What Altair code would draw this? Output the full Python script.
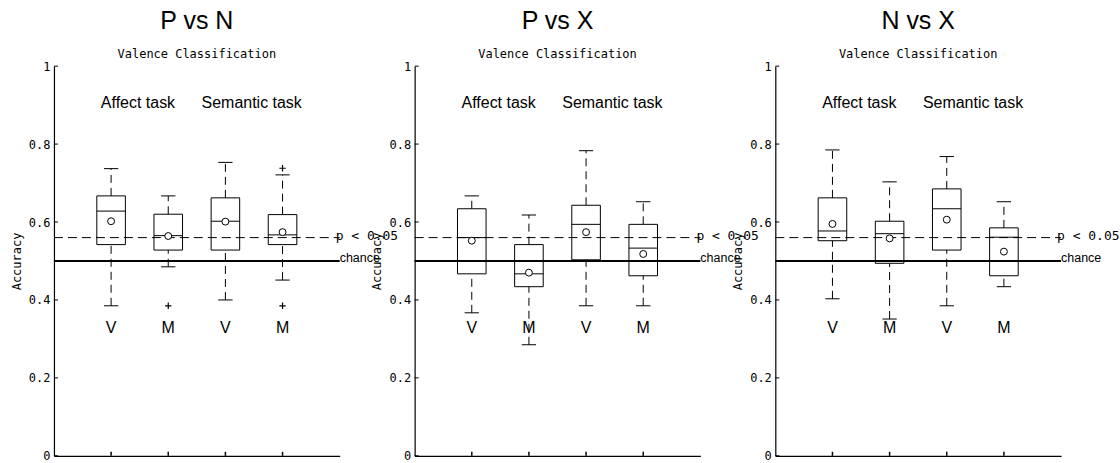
import altair as alt
import pandas as pd

# ---- data -------------------------------------------------------------
panel_titles = ["P vs N", "P vs X", "N vs X"]
subtitle = "Valence Classification"
positions = [1, 2, 3, 4]
conditions = ["V", "M", "V", "M"]
tasks = ["Affect task", "Semantic task"]
task_centres = [1.47, 3.46]

# box statistics per panel, order: V, M (affect task), V, M (semantic task)
pn_q1 = [0.542, 0.528, 0.528, 0.542]
pn_med = [0.628, 0.565, 0.602, 0.567]
pn_q3 = [0.667, 0.620, 0.662, 0.619]
pn_lo = [0.385, 0.485, 0.400, 0.451]
pn_hi = [0.737, 0.667, 0.753, 0.721]
pn_mean = [0.602, 0.564, 0.601, 0.574]
pn_out_pos = [2, 4, 4]
pn_out_val = [0.385, 0.738, 0.385]

px_q1 = [0.467, 0.434, 0.503, 0.462]
px_med = [0.560, 0.467, 0.594, 0.533]
px_q3 = [0.634, 0.542, 0.643, 0.594]
px_lo = [0.367, 0.285, 0.385, 0.385]
px_hi = [0.667, 0.618, 0.783, 0.652]
px_mean = [0.552, 0.470, 0.574, 0.518]
px_out_pos = []
px_out_val = []

nx_q1 = [0.552, 0.494, 0.528, 0.462]
nx_med = [0.577, 0.570, 0.634, 0.561]
nx_q3 = [0.662, 0.602, 0.685, 0.585]
nx_lo = [0.403, 0.351, 0.385, 0.434]
nx_hi = [0.785, 0.703, 0.768, 0.652]
nx_mean = [0.595, 0.558, 0.606, 0.524]
nx_out_pos = []
nx_out_val = []

threshold_labels = ["p < 0.05", "chance"]
threshold_values = [0.56, 0.5]
condition_label_level = 0.328
task_label_level = 0.905
y_ticks = [0, 0.2, 0.4, 0.6, 0.8, 1]

# ---- styling ----------------------------------------------------------
SANS = "Liberation Sans"
MONO = "DejaVu Sans Mono"
W, H = 286, 390
DASH = [8, 5]

xscale = alt.Scale(domain=[0, 5], nice=False, zero=False)
yscale = alt.Scale(domain=[0, 1], nice=False, zero=False)
xaxis = alt.Axis(labels=False, ticks=False, tickSize=0, title=None, grid=False,
                 domainColor="black", domainWidth=1.2, values=positions)
yaxis = alt.Axis(values=y_ticks, format="~g", ticks=False, tickSize=0, grid=False,
                 domainColor="black", domainWidth=1.2,
                 labelFont=MONO, labelFontSize=12, labelColor="black", labelPadding=4,
                 title="Accuracy", titleFont=MONO, titleFontSize=12,
                 titleFontWeight="normal", titleColor="black", titlePadding=5)


def X(field):
    return alt.X(field, type="quantitative", scale=xscale, axis=xaxis)


def Y(field):
    return alt.Y(field, type="quantitative", scale=yscale, axis=yaxis)


def panel(title, q1, med, q3, lo, hi, mean, out_pos, out_val):
    stats = pd.DataFrame({"pos": positions, "cond": conditions, "q1": q1,
                          "med": med, "q3": q3, "lo": lo, "hi": hi, "mean": mean})
    base = alt.Chart(stats).transform_calculate(
        left="datum.pos - 0.25", right="datum.pos + 0.25",
        capL="datum.pos - 0.125", capR="datum.pos + 0.125")

    refs = pd.DataFrame({"label": threshold_labels, "value": threshold_values,
                         "start": [0, 0], "end": [5, 5]})
    ref_base = alt.Chart(refs)
    p_line = ref_base.transform_filter(alt.datum.label == threshold_labels[0]).mark_rule(
        color="black", strokeWidth=1, strokeDash=[9, 5]).encode(
        x=X("start:Q"), x2="end:Q", y=Y("value:Q"))
    chance_line = ref_base.transform_filter(alt.datum.label == threshold_labels[1]).mark_rule(
        color="black", strokeWidth=2).encode(x=X("start:Q"), x2="end:Q", y=Y("value:Q"))
    p_text = ref_base.transform_filter(alt.datum.label == threshold_labels[0]).mark_text(
        align="left", baseline="middle", dx=-4, dy=-2, font=MONO, fontSize=13,
        color="black").encode(x=X("end:Q"), y=Y("value:Q"), text="label:N")
    chance_text = ref_base.transform_filter(alt.datum.label == threshold_labels[1]).mark_text(
        align="left", baseline="alphabetic", dx=0, dy=1, font=SANS, fontSize=12.5,
        color="black").encode(x=X("end:Q"), y=Y("value:Q"), text="label:N")

    boxes = base.mark_rect(fillOpacity=0, stroke="black", strokeWidth=1).encode(
        x=X("left:Q"), x2="right:Q", y=Y("q1:Q"), y2="q3:Q")
    medians = base.mark_rule(color="black", strokeWidth=1).encode(
        x=X("left:Q"), x2="right:Q", y=Y("med:Q"))
    upper = base.mark_rule(color="black", strokeWidth=1, strokeDash=DASH).encode(
        x=X("pos:Q"), y=Y("q3:Q"), y2="hi:Q")
    lower = base.mark_rule(color="black", strokeWidth=1, strokeDash=DASH).encode(
        x=X("pos:Q"), y=Y("lo:Q"), y2="q1:Q")
    cap_hi = base.mark_rule(color="black", strokeWidth=1).encode(
        x=X("capL:Q"), x2="capR:Q", y=Y("hi:Q"))
    cap_lo = base.mark_rule(color="black", strokeWidth=1).encode(
        x=X("capL:Q"), x2="capR:Q", y=Y("lo:Q"))
    means = base.mark_point(shape="circle", size=48, filled=True, fill="white",
                            stroke="black", strokeWidth=1, opacity=1).encode(
        x=X("pos:Q"), y=Y("mean:Q"))

    cond_labels = base.transform_calculate(level=str(condition_label_level)).mark_text(
        font=SANS, fontSize=16, color="black", baseline="middle").encode(
        x=X("pos:Q"), y=Y("level:Q"), text="cond:N")
    task_df = pd.DataFrame({"task": tasks, "x": task_centres,
                            "level": [task_label_level] * len(tasks)})
    task_labels = alt.Chart(task_df).mark_text(
        font=SANS, fontSize=16, color="black", baseline="middle").encode(
        x=X("x:Q"), y=Y("level:Q"), text="task:N")

    ytick_marks = alt.Chart(pd.DataFrame({"v": y_ticks})).mark_rule(
        color="black", strokeWidth=1).encode(y=Y("v:Q"), x=alt.value(0), x2=alt.value(4))
    xtick_marks = alt.Chart(pd.DataFrame({"pos": positions})).mark_rule(
        color="black", strokeWidth=1.5).encode(x=X("pos:Q"), y=alt.value(H), y2=alt.value(H - 4))

    layers = [p_line, chance_line, boxes, medians, upper, lower, cap_hi, cap_lo,
              means, p_text, chance_text, cond_labels, task_labels,
              ytick_marks, xtick_marks]
    if out_pos:
        outl = alt.Chart(pd.DataFrame({"pos": out_pos, "val": out_val})).mark_point(
            shape="M-1,0L1,0M0,-1L0,1", size=40, filled=False, stroke="black",
            strokeWidth=1.2, opacity=1).encode(x=X("pos:Q"), y=Y("val:Q"))
        layers.append(outl)

    return alt.layer(*layers).properties(
        width=W, height=H,
        title=alt.TitleParams(text=title, subtitle=subtitle, anchor="middle",
                              frame="group", font=SANS, fontSize=25,
                              fontWeight="normal", color="black",
                              subtitleFont=MONO, subtitleFontSize=12,
                              subtitleColor="black", subtitlePadding=15, offset=0))


chart = alt.hconcat(
    panel(panel_titles[0], pn_q1, pn_med, pn_q3, pn_lo, pn_hi, pn_mean, pn_out_pos, pn_out_val),
    panel(panel_titles[1], px_q1, px_med, px_q3, px_lo, px_hi, px_mean, px_out_pos, px_out_val),
    panel(panel_titles[2], nx_q1, nx_med, nx_q3, nx_lo, nx_hi, nx_mean, nx_out_pos, nx_out_val),
    spacing=75, bounds="flush",
).properties(
    padding={"left": 10, "top": 9, "right": 0, "bottom": 1},
    background="white",
).configure_view(strokeWidth=0, stroke="transparent")

chart.save("out.html", embed_options={"renderer": "svg", "actions": False})
